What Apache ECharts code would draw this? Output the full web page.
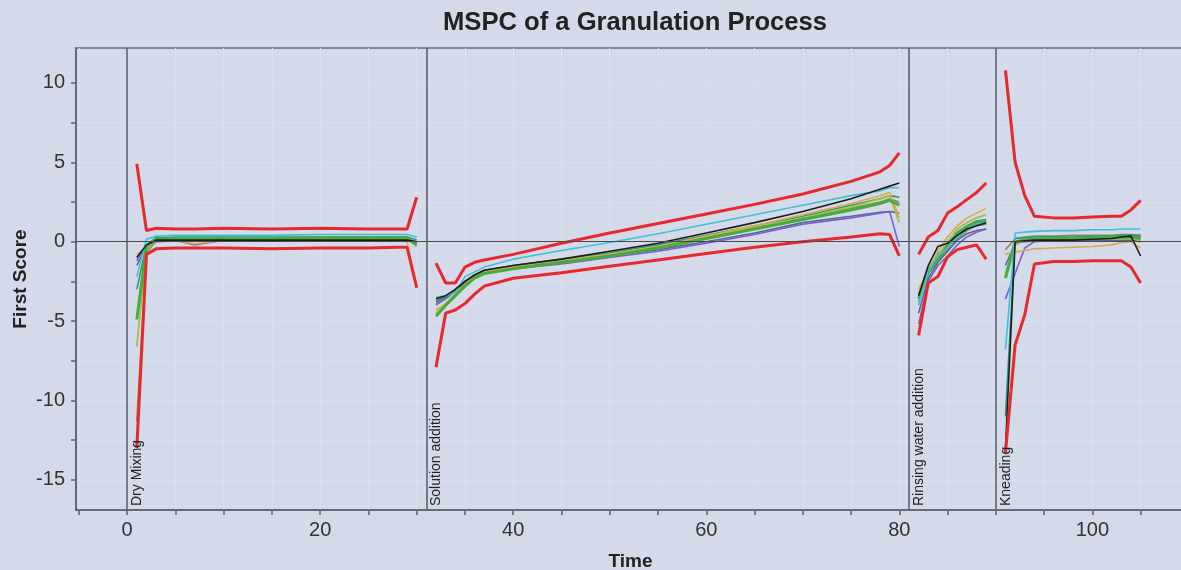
<!DOCTYPE html>
<html>
<head>
<meta charset="utf-8">
<title>MSPC of a Granulation Process</title>
<script src="https://cdn.jsdelivr.net/npm/echarts@6/dist/echarts.min.js"></script>
<style>
  html, body { margin: 0; padding: 0; background: #d4dae9; }
  #chart { width: 1181px; height: 570px; }
</style>
</head>
<body>
<div id="chart"></div>
<script>
// Sample times for each phase; null marks the break between phases
const time = [
  1, 2, 3, 5, 7, 10, 15, 20, 25, 28, 29, 30,
  31,
  32, 33, 34, 35, 36, 37, 40, 45, 50, 55, 60, 65, 70, 75, 78, 79, 80,
  81,
  82, 83, 84, 85, 86, 87, 88, 89,
  90,
  91, 92, 93, 94, 96, 98, 100, 102, 103, 104, 105
];

// Control limits (upper / lower)
const upperLimit = [
  4.9, 0.7, 0.85, 0.8, 0.8, 0.85, 0.8, 0.85, 0.8, 0.8, 0.8, 2.8,
  null,
  -1.35, -2.6, -2.6, -1.6, -1.3, -1.15, -0.8, -0.1, 0.55, 1.15, 1.75, 2.35, 3.0, 3.8, 4.4, 4.8, 5.6,
  null,
  -0.8, 0.3, 0.7, 1.8, 2.2, 2.65, 3.1, 3.7,
  null,
  10.8, 5.0, 2.9, 1.6, 1.5, 1.5, 1.55, 1.6, 1.6, 2.0, 2.6
];
const lowerLimit = [
  -13.0, -0.8, -0.45, -0.4, -0.4, -0.4, -0.45, -0.4, -0.4, -0.35, -0.35, -2.9,
  null,
  -7.9, -4.5, -4.3, -3.9, -3.3, -2.8, -2.3, -1.95, -1.55, -1.15, -0.75, -0.35, 0.0, 0.3, 0.5, 0.45, -0.9,
  null,
  -5.9, -2.6, -2.2, -0.95, -0.5, -0.35, -0.2, -1.1,
  null,
  -13.3, -6.5, -4.6, -1.4, -1.25, -1.25, -1.2, -1.2, -1.2, -1.6, -2.6
];

// Batch trajectories (first score)
const batchBlack = [
  -1.0, -0.2, 0.1, 0.1, 0.1, 0.1, 0.1, 0.1, 0.1, 0.1, 0.1, 0.0,
  null,
  -3.6, -3.4, -3.0, -2.5, -2.1, -1.8, -1.5, -1.1, -0.6, -0.1, 0.55, 1.2, 1.9, 2.7, 3.3, 3.5, 3.7,
  null,
  -3.4, -1.5, -0.3, -0.1, 0.4, 0.8, 1.0, 1.2,
  null,
  -13.0, 0.0, 0.05, 0.1, 0.1, 0.1, 0.15, 0.2, 0.3, 0.35, -0.9
];
const batchCyan = [
  -2.2, 0.15, 0.35, 0.4, 0.4, 0.4, 0.4, 0.45, 0.45, 0.45, 0.45, 0.3,
  null,
  -3.5, -3.4, -3.2, -2.2, -1.9, -1.6, -1.1, -0.55, -0.05, 0.5, 1.1, 1.7, 2.3, 2.9, 3.2, 3.4, 3.4,
  null,
  -4.0, -1.8, -0.9, -0.4, 0.3, 0.8, 1.1, 1.2,
  null,
  -6.8, 0.55, 0.6, 0.65, 0.7, 0.7, 0.75, 0.75, 0.8, 0.8, 0.8
];
const batchTan = [
  -0.8, -0.4, 0.1, 0.1, -0.15, 0.1, 0.1, 0.1, 0.1, 0.1, 0.0, -2.8,
  null,
  -4.3, -3.9, -3.3, -2.7, -2.2, -1.9, -1.6, -1.2, -0.8, -0.3, 0.35, 1.0, 1.7, 2.4, 2.9, 3.1, 1.5,
  null,
  -3.0, -1.8, -0.6, 0.3, 1.0, 1.5, 1.8, 2.1,
  null,
  -0.8, -0.65, -0.55, -0.45, -0.4, -0.35, -0.3, -0.2, -0.05, 0.0, -0.4
];
const batchGreen = [
  -4.9, -0.3, 0.15, 0.2, 0.2, 0.2, 0.2, 0.25, 0.25, 0.25, 0.25, -0.2,
  null,
  -4.7, -4.0, -3.4, -2.8, -2.3, -2.0, -1.7, -1.3, -0.9, -0.4, 0.2, 0.8, 1.4, 2.0, 2.4, 2.6, 2.3,
  null,
  -3.6, -1.9, -1.1, -0.3, 0.5, 0.9, 1.2, 1.3,
  null,
  -2.3, 0.0, 0.1, 0.15, 0.2, 0.2, 0.25, 0.3, 0.3, 0.3, 0.2
];
const batchLime = [
  -6.6, -0.5, 0.1, 0.15, 0.15, 0.15, 0.2, 0.2, 0.2, 0.2, 0.2, -0.3,
  null,
  -4.5, -3.9, -3.3, -2.7, -2.2, -1.9, -1.6, -1.2, -0.8, -0.3, 0.3, 0.9, 1.5, 2.2, 2.7, 2.9, 1.2,
  null,
  -3.3, -1.6, -0.9, 0.0, 0.8, 1.2, 1.5, 1.7,
  null,
  -2.0, -0.2, 0.1, 0.15, 0.2, 0.2, 0.2, 0.2, 0.2, 0.2, 0.1
];
const batchPurple = [
  -1.2, -0.2, 0.1, 0.1, -0.2, 0.1, 0.1, 0.1, 0.1, 0.1, 0.1, 0.0,
  null,
  -4.0, -3.6, -3.1, -2.6, -2.2, -1.9, -1.7, -1.4, -1.0, -0.6, -0.1, 0.45, 1.1, 1.5, 1.8, 1.9, -0.3,
  null,
  -5.2, -2.5, -1.5, -0.9, -0.2, 0.3, 0.6, 0.8,
  null,
  -3.6, -2.0, -0.4, 0.0, 0.1, 0.2, 0.25, 0.3, 0.35, 0.4, 0.4
];
const batchSlate = [
  -1.5, -0.3, 0.0, 0.05, 0.05, 0.05, 0.05, 0.05, 0.05, 0.05, 0.05, 0.0,
  null,
  -3.8, -3.5, -3.0, -2.5, -2.1, -1.9, -1.7, -1.3, -0.9, -0.5, 0.0, 0.55, 1.2, 1.6, 1.85, 1.9, 1.8,
  null,
  -4.5, -2.3, -1.3, -0.6, 0.1, 0.5, 0.7, 0.8,
  null,
  -1.5, -0.1, 0.0, 0.05, 0.05, 0.1, 0.1, 0.1, 0.1, 0.1, 0.0
];
const batchOlive = [
  -11.3, -0.7, 0.05, 0.1, 0.05, 0.1, 0.1, 0.1, 0.1, 0.1, 0.1, -0.1,
  null,
  -3.9, -3.6, -3.1, -2.6, -2.2, -1.9, -1.6, -1.2, -0.8, -0.35, 0.25, 0.85, 1.45, 2.1, 2.5, 2.7, 2.5,
  null,
  -3.8, -2.0, -1.2, -0.5, 0.2, 0.7, 1.0, 1.1,
  null,
  -0.5, 0.2, 0.3, 0.35, 0.35, 0.4, 0.4, 0.4, 0.45, 0.45, 0.4
];
const batchTeal = [
  -3.0, -0.2, 0.25, 0.3, 0.3, 0.3, 0.3, 0.3, 0.3, 0.3, 0.3, 0.1,
  null,
  -3.7, -3.5, -3.1, -2.5, -2.1, -1.8, -1.5, -1.1, -0.7, -0.2, 0.4, 1.0, 1.6, 2.3, 2.7, 2.9, 2.8,
  null,
  -3.5, -1.7, -0.8, -0.2, 0.6, 1.0, 1.3, 1.4,
  null,
  -11.0, 0.2, 0.25, 0.3, 0.3, 0.3, 0.35, 0.35, 0.4, 0.4, 0.3
];

// Phase boundaries and their names
const phaseStart = [0, 31, 81, 90];
const phaseName = ['Dry Mixing', 'Solution addition', 'Rinsing water addition', 'Kneading'];

// Axis ticks and labels
const xTicks = [-5, 0, 5, 10, 15, 20, 25, 30, 35, 40, 45, 50, 55, 60, 65, 70, 75, 80, 85, 90, 95, 100, 105];
const xLabels = [0, 20, 40, 60, 80, 100];
const yTicks = [-15, -12.5, -10, -7.5, -5, -2.5, 0, 2.5, 5, 7.5, 10];
const yLabels = [-15, -10, -5, 0, 5, 10];

const toPairs = vals => time.map((t, i) => [t, vals[i] === null ? '-' : vals[i]]);
const signed = v => (v < 0 ? '-' + Math.abs(v) : String(v));

const FONT = 'Liberation Sans, Arial, sans-serif';

function trace(name, vals, color, width, z) {
  return {
    name: name,
    type: 'line',
    data: toPairs(vals),
    showSymbol: false,
    connectNulls: false,
    silent: true,
    z: z || 2,
    lineStyle: { color: color, width: width },
    itemStyle: { color: color }
  };
}

const series = [
  trace('Batch 1', batchOlive, '#8d8a62', 1.6),
  trace('Batch 2', batchSlate, '#55698e', 1.6),
  trace('Batch 3', batchPurple, '#7b5fd4', 1.6),
  trace('Batch 4', batchTeal, '#2e9484', 1.6),
  trace('Batch 5', batchLime, '#9fc24c', 1.8),
  trace('Batch 6', batchTan, '#e0a848', 1.6),
  trace('Batch 7', batchGreen, '#46ad3c', 3),
  trace('Batch 8', batchCyan, '#3fc2d6', 1.6),
  trace('Batch 9', batchBlack, '#1c1c1c', 1.6),
  trace('Upper limit', upperLimit, '#e8282c', 3, 3),
  trace('Lower limit', lowerLimit, '#e8282c', 3, 3),
  {
    name: 'Reference lines',
    type: 'line',
    data: [],
    silent: true,
    z: 1,
    markLine: {
      silent: true,
      symbol: 'none',
      animation: false,
      data: [
        {
          yAxis: 0,
          lineStyle: { color: '#4a4a4a', width: 1.2, type: 'solid' },
          label: { show: false }
        }
      ].concat(phaseStart.map((x, i) => ({
        xAxis: x,
        name: phaseName[i],
        lineStyle: { color: '#555b66', width: 1.5, type: 'solid' },
        label: {
          show: true,
          formatter: '{b}',
          position: 'insideStartBottom',
          distance: [4, 3],
          color: '#222',
          fontSize: 14,
          fontFamily: FONT
        }
      })))
    }
  }
];

const chart = echarts.init(document.getElementById('chart'), null, { renderer: 'canvas' });

chart.setOption({
  backgroundColor: '#d4dae9',
  animation: false,
  title: {
    text: 'MSPC of a Granulation Process',
    left: 630,
    textAlign: 'center',
    top: 5,
    textStyle: { fontFamily: FONT, fontWeight: 'bold', fontSize: 25.6, color: '#222' }
  },
  grid: {
    left: 76,
    top: 48,
    width: 1109,
    height: 462,
    outerBoundsMode: 'none',
    containLabel: false,
    show: true,
    backgroundColor: '#d4dae9',
    borderColor: '#6b6f78',
    borderWidth: 1.5
  },
  xAxis: {
    type: 'value',
    min: -5.3,
    max: 109.6,
    name: 'Time',
    nameLocation: 'middle',
    nameGap: 42,
    nameMoveOverlap: false,
    nameTextStyle: { fontFamily: FONT, fontWeight: 'bold', fontSize: 19, color: '#222' },
    axisLine: { show: true, onZero: false, lineStyle: { color: '#5c616b', width: 1.5 } },
    axisTick: { show: true, customValues: xTicks, length: 5, lineStyle: { color: '#5c616b', width: 1.5 } },
    axisLabel: {
      customValues: xLabels,
      fontFamily: FONT, fontSize: 20, color: '#333', margin: 10,
      formatter: signed
    },
    splitLine: { show: true, lineStyle: { color: '#dae0ed', width: 1 } }
  },
  yAxis: {
    type: 'value',
    min: -16.9,
    max: 12.2,
    name: 'First Score',
    nameLocation: 'middle',
    nameGap: 46,
    nameMoveOverlap: false,
    nameTextStyle: { fontFamily: FONT, fontWeight: 'bold', fontSize: 19, color: '#222' },
    axisLine: { show: true, onZero: false, lineStyle: { color: '#5c616b', width: 1.5 } },
    axisTick: { show: true, customValues: yTicks, length: 5, lineStyle: { color: '#5c616b', width: 1.5 } },
    axisLabel: {
      customValues: yLabels,
      fontFamily: FONT, fontSize: 20, color: '#333', margin: 11,
      formatter: signed
    },
    splitLine: { show: true, lineStyle: { color: '#dae0ed', width: 1 } }
  },
  series: series
});
</script>
</body>
</html>
